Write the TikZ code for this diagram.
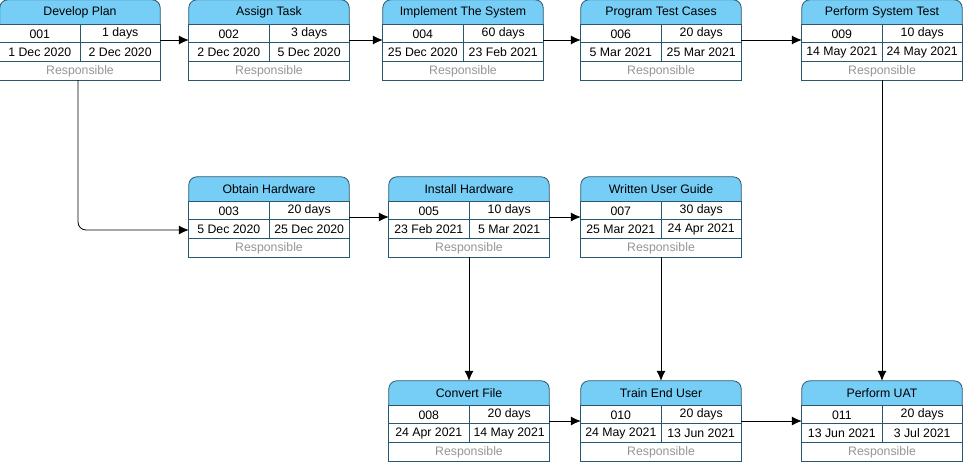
\documentclass[tikz,border=0pt]{standalone}
\usepackage{fontspec}
\setmainfont{Liberation Sans}
\usepackage{tikz}
\usetikzlibrary{arrows.meta,positioning,calc}
\usepackage{xcolor}

\definecolor{headblue}{RGB}{118,205,245}
\definecolor{edgeblue}{RGB}{40,88,112}
\definecolor{respgray}{RGB}{150,150,150}

\tikzset{
  task/.style={rectangle, inner sep=0pt, minimum width=160pt, minimum height=80pt},
  head/.style={draw=edgeblue, fill=headblue, line width=0.8pt, rounded corners=8pt},
  body/.style={draw=edgeblue, fill=white, line width=0.8pt},
  cell/.style={edgeblue, line width=0.8pt},
  txt/.style={inner sep=0pt, font=\fontsize{12.3}{14}\selectfont},
  resp/.style={txt, text=respgray},
  flow/.style={line width=0.8pt, -{Latex[length=10pt,width=9pt]}}
}

\begin{document}
\begin{tikzpicture}[x=1pt, y=-1pt]
  \useasboundingbox[fill=white] (0,0) rectangle (965,463);

  % task boxes: name / left / top / title / id / duration / start / finish
  \foreach \n/\x/\y/\t/\i/\d/\s/\e in {
      dev/0/0/Develop Plan/001/1 days/1 Dec 2020/2 Dec 2020,
      assign/189/0/Assign Task/002/3 days/2 Dec 2020/5 Dec 2020,
      impl/383/0/Implement The System/004/60 days/25 Dec 2020/23 Feb 2021,
      prog/581/0/Program Test Cases/006/20 days/5 Mar 2021/25 Mar 2021,
      pst/802/0/Perform System Test/009/10 days/14 May 2021/24 May 2021,
      obtain/189/177/Obtain Hardware/003/20 days/5 Dec 2020/25 Dec 2020,
      install/389/177/Install Hardware/005/10 days/23 Feb 2021/5 Mar 2021,
      guide/581/177/Written User Guide/007/30 days/25 Mar 2021/24 Apr 2021,
      convert/389/381/Convert File/008/20 days/24 Apr 2021/14 May 2021,
      train/581/381/Train End User/010/20 days/24 May 2021/13 Jun 2021,
      uat/802/381/Perform UAT/011/20 days/13 Jun 2021/3 Jul 2021} {
    \node[task] (\n) at (\x+80,\y+40) {};
    \draw[head] (\n.north west) rectangle ($(\n.north east)+(0,40)$);
    \draw[body] ($(\n.north west)+(0,25)$) rectangle (\n.south east);
    \draw[cell] ($(\n.north west)+(0,43)$) -- ($(\n.north east)+(0,43)$);
    \draw[cell] ($(\n.north west)+(0,62)$) -- ($(\n.north east)+(0,62)$);
    \draw[cell] ($(\n.north)+(0,25)$) -- ($(\n.north)+(0,62)$);
    \node[txt] (\n-title) at ($(\n.north)+(0,12.5)$) {\t};
    \node[txt] (\n-id) at ($(\n.north west)+(40,34)$) {\i};
    \node[txt] (\n-dur) at ($(\n.north east)+(-40,34)$) {\d};
    \node[txt] (\n-start) at ($(\n.north west)+(40,52.5)$) {\s};
    \node[txt] (\n-end) at ($(\n.north east)+(-40,52.5)$) {\e};
    \node[resp] (\n-resp) at ($(\n.south)+(0,-9)$) {Responsible};
  }

  % dependencies
  \draw[flow] (dev) -- (assign);
  \draw[flow] (assign) -- (impl);
  \draw[flow] (impl) -- (prog);
  \draw[flow] (prog) -- (pst);
  \draw[flow, rounded corners=8pt] ($(dev.south)+(-2,0)$) |- ($(obtain.west)+(0,13)$);
  \draw[flow] (obtain) -- (install);
  \draw[flow] (install) -- (guide);
  \draw[flow] (install) -- (convert);
  \draw[flow] (guide) -- (train);
  \draw[flow] (pst) -- (uat);
  \draw[flow] (convert) -- (train);
  \draw[flow] (train) -- (uat);
\end{tikzpicture}
\end{document}
